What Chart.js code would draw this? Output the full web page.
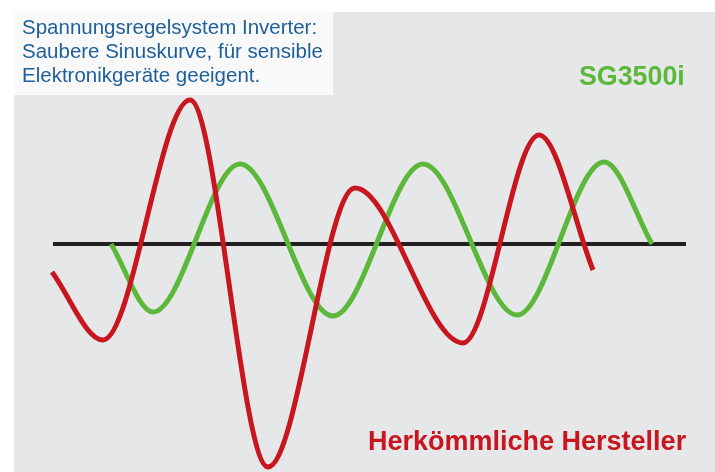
<!DOCTYPE html>
<html>
<head>
<meta charset="utf-8">
<script src="https://cdn.jsdelivr.net/npm/chart.js@4/dist/chart.umd.min.js"></script>
<style>
  html, body { margin: 0; padding: 0; background: #ffffff; }
  #wrap { position: relative; width: 715px; height: 472px; overflow: hidden; }
  #wave { position: absolute; left: 0; top: 0; }
  .lbl { position: absolute; font-family: "Liberation Sans", Arial, sans-serif; white-space: nowrap; line-height: 1; }
  #note { left: 22px; top: 15px; font-size: 20.5px; line-height: 24px; color: #1d5f9c; }
  #green { left: 579px; top: 63px; font-size: 26.8px; font-weight: bold; color: #5cb83a; }
  #red { left: 368px; top: 428px; font-size: 27px; font-weight: bold; color: #c8161e; }
</style>
</head>
<body>
<div id="wrap">
  <canvas id="wave" width="715" height="472"></canvas>
  <div class="lbl" id="note">Spannungsregelsystem Inverter:<br>Saubere Sinuskurve, für sensible<br>Elektronikgeräte geeigent.</div>
  <div class="lbl" id="green">SG3500i</div>
  <div class="lbl" id="red">Herkömmliche Hersteller</div>
</div>
<script>
// peaks, troughs and ends (x position, amplitude above the zero line)
var redX   = [52, 103, 190, 268, 355, 463, 539, 593];
var redY   = [-28, -96, 144, -223, 56, -99, 109, -26];
var greenX = [111, 153, 240, 333, 423, 517, 604, 652];
var greenY = [0, -68, 80, -72, 80, -71, 82, 0];
var axisX  = [53, 686];
var axisY  = [0, 0];

var toPoints = function (xs, ys) {
    return xs.map(function (x, i) { return { x: x, y: ys[i] }; });
};

var backdrop = {
    id: 'backdrop',
    beforeDraw: function (chart) {
        var ctx = chart.ctx;
        ctx.save();
        ctx.fillStyle = '#ffffff';
        ctx.fillRect(0, 0, 715, 472);
        ctx.fillStyle = '#e6e7e9';
        ctx.fillRect(14, 12, 701, 460);
        ctx.fillStyle = '#f9f9fa';
        ctx.fillRect(14, 12, 319, 83);
        ctx.restore();
    }
};

var config = {
    type: 'scatter',
    data: {
        datasets: [{
            data: toPoints(redX, redY),
            borderColor: '#c8161e',
            borderWidth: 5,
            order: 1
        }, {
            data: toPoints(greenX, greenY),
            borderColor: '#5cb83a',
            borderWidth: 5,
            order: 2
        }, {
            data: toPoints(axisX, axisY),
            borderColor: '#231f20',
            borderWidth: 4,
            cubicInterpolationMode: 'default',
            tension: 0,
            order: 3
        }]
    },
    options: {
        responsive: false,
        animation: false,
        layout: { padding: 0 },
        datasets: {
            scatter: {
                showLine: true,
                pointRadius: 0,
                cubicInterpolationMode: 'monotone',
                borderCapStyle: 'butt'
            }
        },
        plugins: {
            legend: { display: false },
            tooltip: { enabled: false }
        },
        scales: {
            x: { type: 'linear', min: 0, max: 715, display: false },
            y: { type: 'linear', min: -228, max: 244, display: false }
        }
    },
    plugins: [backdrop]
};

window.onload = function () {
    var ctx = document.getElementById('wave').getContext('2d');
    window.myWave = new Chart(ctx, config);
};
</script>
</body>
</html>
